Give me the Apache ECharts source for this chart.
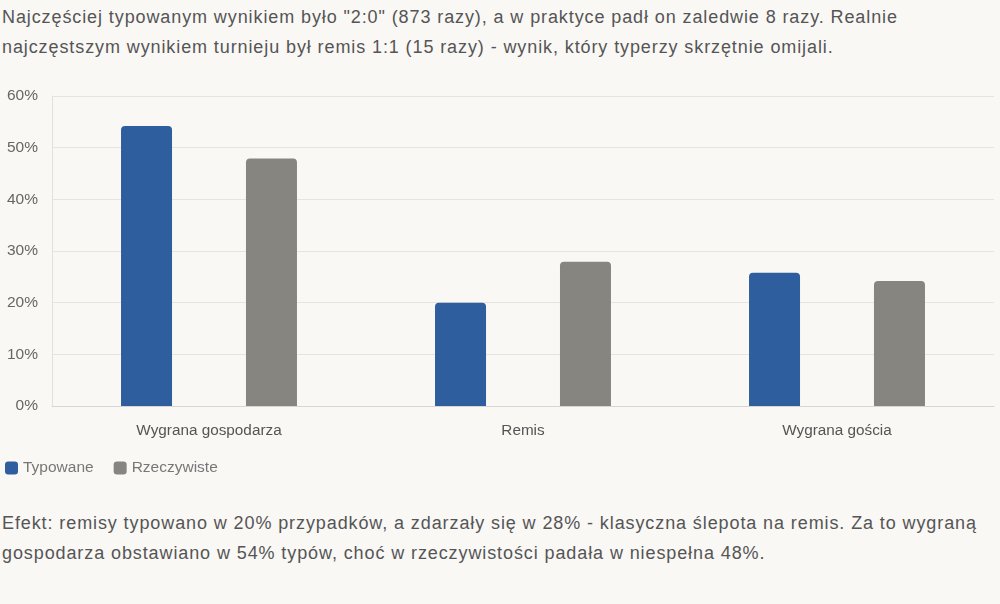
<!DOCTYPE html>
<html>
<head>
<meta charset="utf-8">
<script src="https://cdn.jsdelivr.net/npm/echarts@6/dist/echarts.min.js"></script>
<style>
  body { margin: 0; background: #f9f8f5; font-family: "Liberation Sans", Arial, sans-serif; }
  .txt { position: absolute; left: 2px; font-size: 18px; letter-spacing: 0.9px; line-height: 30px; color: #555; margin: 0; width: 996px; }
  #top { top: 2px; }
  #bottom { top: 508px; }
  #chart { position: absolute; left: 0; top: 80px; width: 1000px; height: 410px; }
</style>
</head>
<body>
<p class="txt" id="top">Najczęściej typowanym wynikiem było "2:0" (873 razy), a w praktyce padł on zaledwie 8 razy. Realnie najczęstszym wynikiem turnieju był remis 1:1 (15 razy) - wynik, który typerzy skrzętnie omijali.</p>
<div id="chart"></div>
<p class="txt" id="bottom">Efekt: remisy typowano w 20% przypadków, a zdarzały się w 28% - klasyczna ślepota na remis. Za to wygraną gospodarza obstawiano w 54% typów, choć w rzeczywistości padała w niespełna 48%.</p>
<script>
const categories = ["Wygrana gospodarza", "Remis", "Wygrana gościa"];
const typowane = [54.2, 20.0, 25.8];
const rzeczywiste = [47.9, 27.9, 24.2];

let chart = echarts.init(document.getElementById("chart"));
let option = {
  textStyle: { fontFamily: "Liberation Sans, Arial, sans-serif" },
  grid: { left: 52, right: 6, top: 16, bottom: 84 },
  legend: {
    left: 0,
    top: 375,
    itemWidth: 13,
    itemHeight: 13,
    itemGap: 20,
    icon: "roundRect",
    textStyle: { color: "#777", fontSize: 15.5 },
    data: ["Typowane", "Rzeczywiste"]
  },
  xAxis: {
    type: "category",
    data: categories,
    axisTick: { show: false },
    axisLine: { lineStyle: { color: "#d8d6d2" } },
    axisLabel: { color: "#555", fontSize: 15.3, margin: 17 }
  },
  yAxis: {
    type: "value",
    min: 0,
    max: 60,
    interval: 10,
    axisLine: { show: true, lineStyle: { color: "#e2e0dc" } },
    axisLabel: { color: "#666", fontSize: 15.5, margin: 14, formatter: "{value}%" },
    splitLine: { lineStyle: { color: "#e6e4e0" } }
  },
  series: [
    {
      name: "Typowane",
      type: "bar",
      data: typowane,
      barWidth: 51,
      barGap: "145%",
      itemStyle: { color: "#2e5e9e", borderRadius: [4, 4, 0, 0] }
    },
    {
      name: "Rzeczywiste",
      type: "bar",
      data: rzeczywiste,
      barWidth: 51,
      itemStyle: { color: "#878580", borderRadius: [4, 4, 0, 0] }
    }
  ]
};
chart.setOption(option);
</script>
</body>
</html>
